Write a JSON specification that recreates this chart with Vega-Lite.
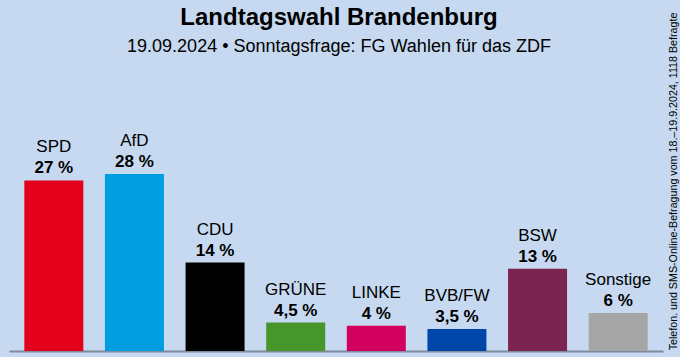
{
  "$schema": "https://vega.github.io/schema/vega-lite/v6.json",
  "width": 654,
  "height": 278,
  "autosize": {"type": "none"},
  "padding": {"left": 9, "top": 73, "right": 17, "bottom": 6},
  "background": "#c6d9f0",
  "config": {"view": {"stroke": null}, "font": "Liberation Sans"},
  "title": {
    "text": "Landtagswahl Brandenburg",
    "subtitle": "19.09.2024 • Sonntagsfrage: FG Wahlen für das ZDF",
    "fontSize": 24,
    "fontWeight": "bold",
    "color": "#000000",
    "subtitleFontSize": 18,
    "subtitleColor": "#000000",
    "subtitleFont": "Liberation Sans",
    "font": "Liberation Sans",
    "anchor": "middle",
    "offset": -44,
    "subtitlePadding": 8,
    "dx": 3
  },
  "data": {
    "values": [
      {"party": "SPD", "value": 27, "label": "27 %"},
      {"party": "AfD", "value": 28, "label": "28 %"},
      {"party": "CDU", "value": 14, "label": "14 %"},
      {"party": "GRÜNE", "value": 4.5, "label": "4,5 %"},
      {"party": "LINKE", "value": 4, "label": "4 %"},
      {"party": "BVB/FW", "value": 3.5, "label": "3,5 %"},
      {"party": "BSW", "value": 13, "label": "13 %"},
      {"party": "Sonstige", "value": 6, "label": "6 %"}
    ]
  },
  "encoding": {
    "x": {
      "field": "party",
      "type": "nominal",
      "sort": null,
      "scale": {"paddingInner": 0.268, "paddingOuter": 0.19},
      "axis": {"title": null, "labels": false, "ticks": false, "domainColor": "#7f8c9c", "domainWidth": 2}
    },
    "y": {
      "field": "value",
      "type": "quantitative",
      "scale": {"domain": [0, 44]},
      "axis": {
        "orient": "right",
        "title": "Telefon. und SMS-Online-Befragung vom 18.–19.9.2024, 1118 Befragte",
        "titleAngle": -90,
        "titleFontSize": 10.7,
        "titleFontWeight": "normal",
        "titleColor": "#000000",
        "titleFont": "Liberation Sans",
        "titleAlign": "center",
        "titleBaseline": "middle",
        "titleX": 10,
        "titleY": 108,
        "labels": false,
        "ticks": false,
        "domain": false,
        "grid": false
      }
    }
  },
  "layer": [
    {
      "mark": {"type": "bar"},
      "encoding": {
        "color": {
          "field": "party",
          "type": "nominal",
          "legend": null,
          "scale": {
            "domain": ["SPD", "AfD", "CDU", "GRÜNE", "LINKE", "BVB/FW", "BSW", "Sonstige"],
            "range": ["#e2001a", "#009ee0", "#000000", "#46962b", "#d2005f", "#0046a8", "#7b2450", "#a6a6a6"]
          }
        }
      }
    },
    {
      "mark": {"type": "text", "dy": -7, "baseline": "alphabetic", "fontWeight": "bold", "fontSize": 17, "color": "#000000"},
      "encoding": {"text": {"field": "label"}}
    },
    {
      "mark": {"type": "text", "dy": -28, "baseline": "alphabetic", "fontSize": 17, "color": "#000000"},
      "encoding": {"text": {"field": "party"}}
    }
  ]
}
